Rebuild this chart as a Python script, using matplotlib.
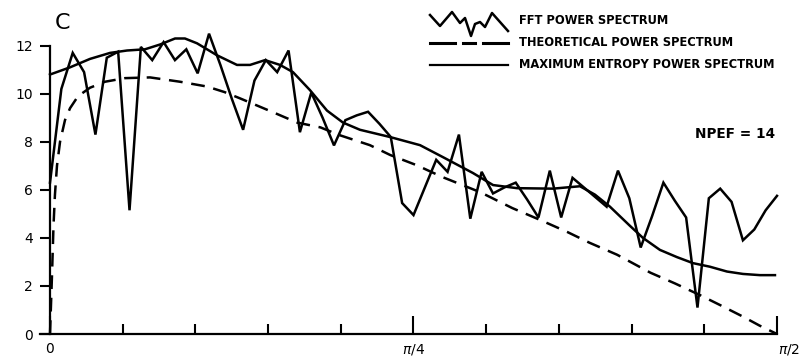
import numpy as np
import matplotlib
matplotlib.use("Agg")
import matplotlib.pyplot as plt
from matplotlib.lines import Line2D
from matplotlib.transforms import ScaledTranslation

plt.rcParams['font.family'] = ['DejaVu Sans']

# FFT power spectrum, 65 equally spaced frequencies from 0 to pi/2
fft_power = [6.3, 10.2, 11.7, 10.9, 8.3, 11.5, 11.75, 5.15, 11.95, 11.4,
             12.15, 11.4, 11.85, 10.85, 12.5, 11.2, 9.8, 8.5, 10.55, 11.4,
             10.9, 11.8, 8.4, 10.05, 9.0, 7.85, 8.9, 9.1, 9.25, 8.75,
             8.2, 5.45, 4.95, 6.1, 7.25, 6.75, 8.3, 4.8, 6.75, 5.85,
             6.1, 6.3, 5.6, 4.85, 6.8, 4.85, 6.5, 6.1, 5.7, 5.3,
             6.8, 5.65, 3.6, 4.9, 6.3, 5.55, 4.85, 1.1, 5.65, 6.05,
             5.5, 3.9, 4.35, 5.15, 5.75]
fft_freq = np.linspace(0, 0.5, len(fft_power))  # units of pi

# theoretical spectrum (frequency in units of pi)
theo_freq = [0.0, 0.0014, 0.0024, 0.0034, 0.0048, 0.0069, 0.0103, 0.0138,
             0.0193, 0.0275, 0.0378, 0.0516, 0.0688, 0.0894, 0.108, 0.120,
             0.131, 0.153, 0.170, 0.186, 0.199, 0.220, 0.234, 0.252, 0.270,
             0.296, 0.318, 0.337, 0.356, 0.371, 0.390, 0.413, 0.430, 0.447,
             0.461, 0.477, 0.488, 0.5]
theo_power = [0.0, 2.5, 4.5, 5.8, 7.0, 8.0, 8.9, 9.4,
              9.9, 10.25, 10.5, 10.65, 10.68, 10.5, 10.3, 10.07,
              9.8, 9.24, 8.8, 8.6, 8.28, 7.86, 7.45, 7.03, 6.53,
              5.9, 5.24, 4.75, 4.24, 3.8, 3.3, 2.55, 2.1, 1.62,
              1.2, 0.71, 0.35, 0.0]

# maximum entropy spectrum (frequency in units of pi)
me_freq = [0.0, 0.0138, 0.0275, 0.0413, 0.053, 0.0653, 0.0757, 0.086,
           0.0928, 0.1011, 0.1149, 0.1286, 0.1376, 0.1479, 0.1582, 0.1671,
           0.1788, 0.1905, 0.2015, 0.2132, 0.2338, 0.2545, 0.2703, 0.2909,
           0.3047, 0.3212, 0.3459, 0.3645, 0.3748, 0.3851, 0.3989, 0.4078,
           0.4195, 0.4312, 0.4422, 0.4539, 0.4656, 0.4766, 0.4883, 0.4986]
me_power = [10.8, 11.1, 11.45, 11.7, 11.8, 11.85, 12.05, 12.3,
            12.3, 12.1, 11.6, 11.2, 11.2, 11.4, 11.2, 10.9,
            10.15, 9.3, 8.8, 8.5, 8.2, 7.86, 7.36, 6.7,
            6.2, 6.07, 6.05, 6.15, 5.8, 5.3, 4.5, 4.0,
            3.5, 3.2, 2.95, 2.8, 2.6, 2.5, 2.45, 2.45]

y_ticks = [0, 2, 4, 6, 8, 10, 12]
x_major = [0, np.pi / 4, np.pi / 2]
x_major_labels = ['0', r'$\pi/4$', r'$\pi/2$']

W, H = 804, 362
fig = plt.figure(figsize=(W / 100, H / 100), dpi=100)
ax = fig.add_axes([40 / W, 28 / H, 737 / W, 288.3 / H])

lw = 1.8
ax.plot(np.array(fft_freq) * np.pi, fft_power, color='black', lw=lw,
        clip_on=False, solid_joinstyle='miter')
ax.plot(np.array(theo_freq) * np.pi, theo_power, color='black', lw=lw,
        dashes=(5.5, 3.5), clip_on=False)
ax.plot(np.array(me_freq) * np.pi, me_power, color='black', lw=lw,
        clip_on=False)

ax.set_xlim(-10 / 727 * np.pi / 2, np.pi / 2)
ax.set_ylim(0, 12)

for s in ['top', 'right']:
    ax.spines[s].set_visible(False)
ax.spines['left'].set_position(('data', 0))
ax.spines['left'].set_linewidth(1.6)
ax.spines['bottom'].set_linewidth(1.6)

ax.set_yticks(y_ticks)
ax.set_yticklabels([str(v) for v in y_ticks])
ax.tick_params(axis='y', direction='out', length=7.5, width=1.5, pad=5,
               labelsize=10)

ax.set_xticks(x_major)
ax.set_xticks(np.arange(1, 10) * np.pi / 20, minor=True)
ax.set_xticklabels(x_major_labels)
ax.tick_params(axis='x', which='major', direction='in', length=13, width=1.5,
               pad=6, labelsize=10)
ax.tick_params(axis='x', which='minor', direction='in', length=7, width=1.5)
last = ax.get_xticklabels()[-1]
last.set_transform(last.get_transform() + ScaledTranslation(12 / 100, 0, fig.dpi_scale_trans))


def px(x, y):
    return x / W, 1 - y / H


# panel letter and annotation
fig.text(*px(55, 23), 'C', fontsize=16, va='center', ha='left')
fig.text(*px(695, 134), 'NPEF = 14', fontsize=9.8, fontweight='bold',
         va='center', ha='left')

# hand-made key
zig_x = [430, 440, 452, 460, 465, 471, 475, 480, 485, 492, 508]
zig_y = [15, 26, 12, 23, 18, 36, 24, 22, 27, 13, 31]
fig.add_artist(Line2D([px(a, b)[0] for a, b in zip(zig_x, zig_y)],
                      [px(a, b)[1] for a, b in zip(zig_x, zig_y)],
                      color='black', lw=1.8, transform=fig.transFigure))
for x0, x1 in [(430, 455), (463, 475), (483, 508)]:
    fig.add_artist(Line2D([px(x0, 43)[0], px(x1, 43)[0]], [px(x0, 43)[1]] * 2,
                          color='black', lw=2.2, transform=fig.transFigure))
fig.add_artist(Line2D([px(430, 65)[0], px(508, 65)[0]], [px(430, 65)[1]] * 2,
                      color='black', lw=1.6, transform=fig.transFigure))

key_labels = ['FFT POWER SPECTRUM', 'THEORETICAL POWER SPECTRUM',
              'MAXIMUM ENTROPY POWER SPECTRUM']
for lab, yy in zip(key_labels, [21, 43, 65]):
    fig.text(*px(519, yy), lab, fontsize=8.3, fontweight='bold',
             va='center', ha='left')

fig.savefig('out.png', dpi=100)
